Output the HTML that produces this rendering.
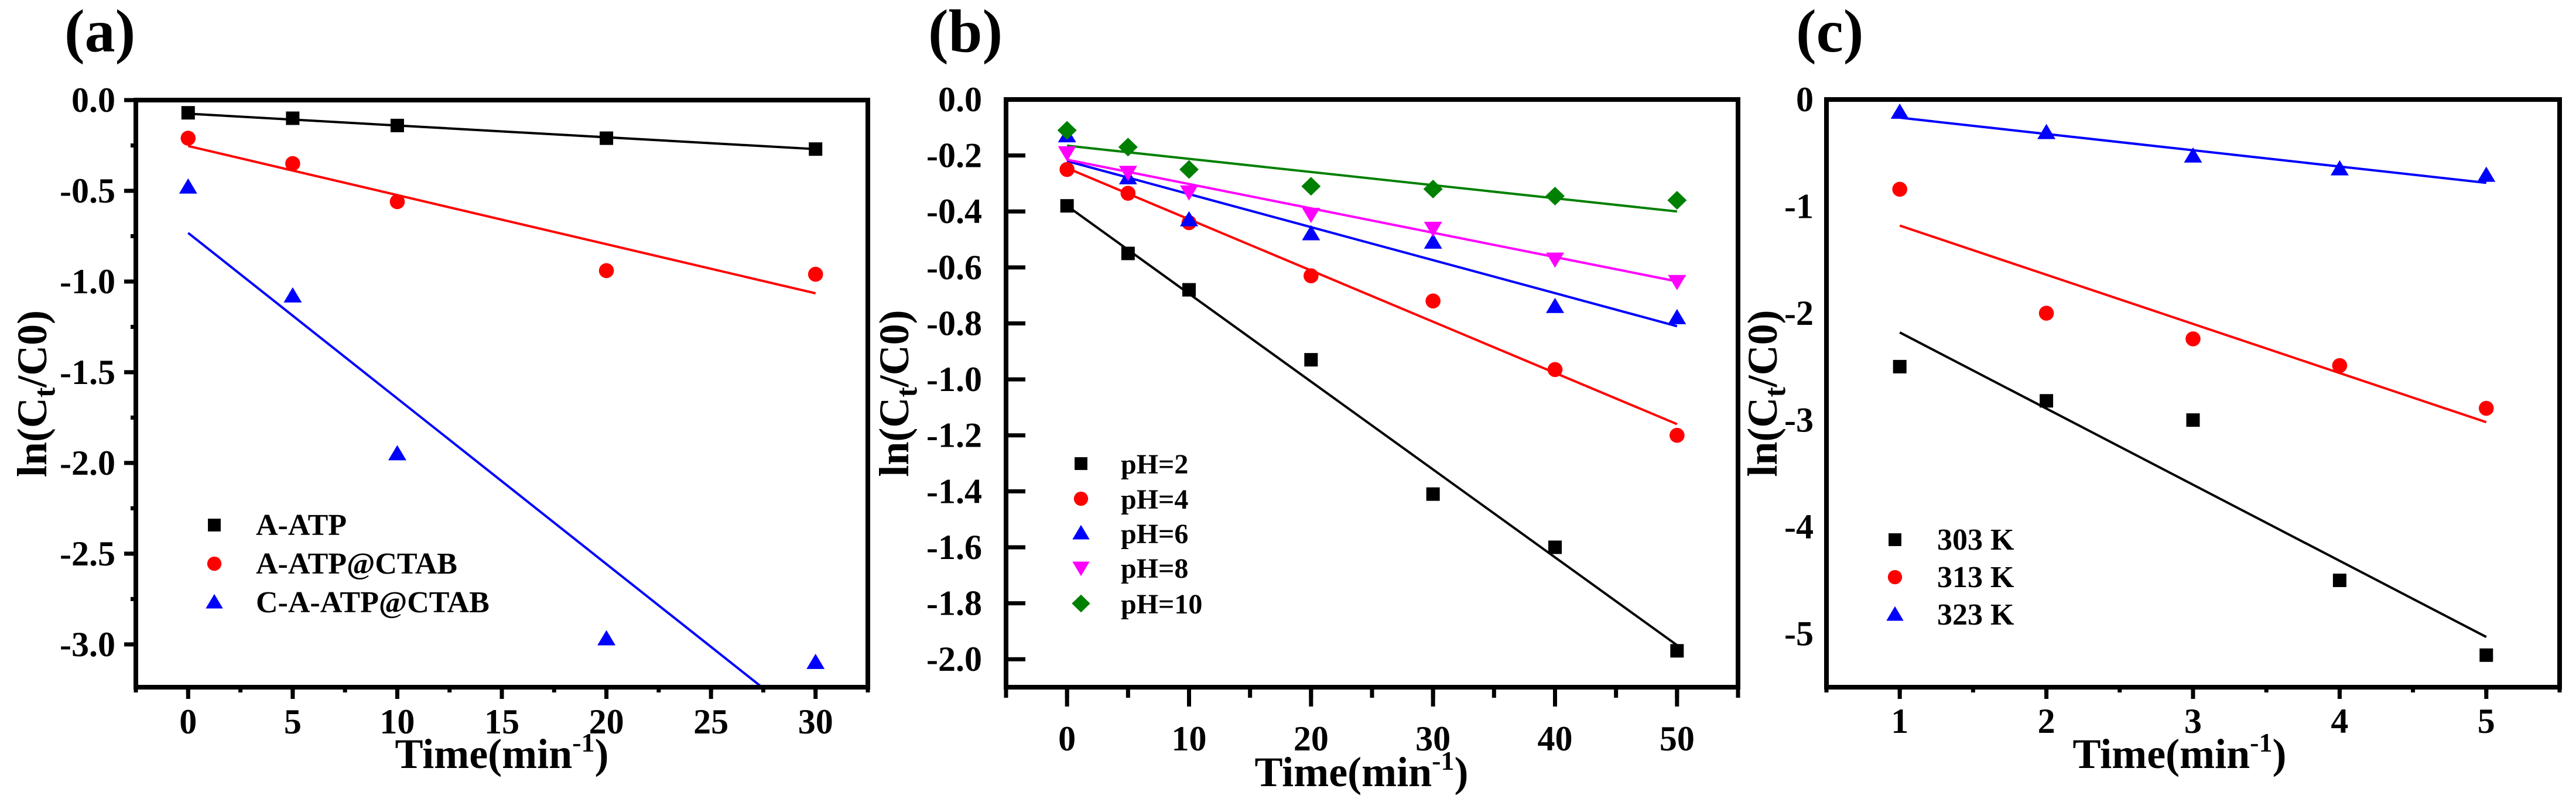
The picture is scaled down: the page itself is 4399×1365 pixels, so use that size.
<!DOCTYPE html>
<html><head><meta charset="utf-8"><style>
html,body{margin:0;padding:0;background:#fff}
svg{display:block}
text{font-family:"Liberation Serif","Times New Roman",Times,serif;font-weight:700;fill:#000}
</style></head><body>
<svg id="fig" width="4399" height="1365" viewBox="0 0 4399 1365" xmlns="http://www.w3.org/2000/svg"></svg>
<script>
// ---- Panel (a) data ----
const aTimes = [0, 5, 10, 20, 30];
const aATP = [-0.07, -0.10, -0.14, -0.21, -0.27];
const aATPCTAB = [-0.21, -0.35, -0.56, -0.94, -0.96];
const aCATPCTAB = [-0.48, -1.08, -1.95, -2.97, -3.10];
const aFitATP = [-0.075, -0.27];
const aFitATPCTAB = [-0.253, -1.065];
const aFitCATPCTAB = [-0.732, -3.47];
const aXTicks = [0, 5, 10, 15, 20, 25, 30];
const aYTicks = [0, -0.5, -1.0, -1.5, -2.0, -2.5, -3.0];
const aYTickLabels = ["0.0", "-0.5", "-1.0", "-1.5", "-2.0", "-2.5", "-3.0"];
const aLegend = ["A-ATP", "A-ATP@CTAB", "C-A-ATP@CTAB"];

// ---- Panel (b) data ----
const bTimes = [0, 5, 10, 20, 30, 40, 50];
const bPH2 = [-0.38, -0.55, -0.68, -0.93, -1.41, -1.60, -1.97];
const bPH4 = [-0.25, -0.335, -0.44, -0.63, -0.72, -0.965, -1.20];
const bPH6 = [-0.13, -0.28, -0.43, -0.48, -0.51, -0.74, -0.78];
const bPH8 = [-0.19, -0.26, -0.33, -0.41, -0.46, -0.57, -0.65];
const bPH10 = [-0.11, -0.17, -0.25, -0.31, -0.32, -0.345, -0.36];
const bFitPH2 = [-0.38, -1.95];
const bFitPH4 = [-0.245, -1.16];
const bFitPH6 = [-0.22, -0.81];
const bFitPH8 = [-0.215, -0.65];
const bFitPH10 = [-0.165, -0.40];
const bXTicks = [0, 10, 20, 30, 40, 50];
const bYTicks = [0, -0.2, -0.4, -0.6, -0.8, -1.0, -1.2, -1.4, -1.6, -1.8, -2.0];
const bYTickLabels = ["0.0","-0.2","-0.4","-0.6","-0.8","-1.0","-1.2","-1.4","-1.6","-1.8","-2.0"];
const bLegend = ["pH=2", "pH=4", "pH=6", "pH=8", "pH=10"];

// ---- Panel (c) data ----
const cTimes = [1, 2, 3, 4, 5];
const c303 = [-2.50, -2.82, -3.00, -4.50, -5.20];
const c313 = [-0.84, -2.00, -2.24, -2.49, -2.89];
const c323 = [-0.12, -0.31, -0.53, -0.65, -0.71];
const cFit303 = [-2.18, -5.03];
const cFit313 = [-1.18, -3.02];
const cFit323 = [-0.17, -0.78];
const cXTicks = [1, 2, 3, 4, 5];
const cYTicks = [0, -1, -2, -3, -4, -5];
const cYTickLabels = ["0", "-1", "-2", "-3", "-4", "-5"];
const cLegend = ["303 K", "313 K", "323 K"];

const NS = "http://www.w3.org/2000/svg";
const FONT = '"Liberation Serif","Times New Roman",Times,serif';
const svg = document.getElementById("fig");
function mk(tag, attrs, parent) {
  const e = document.createElementNS(NS, tag);
  for (const k in attrs) e.setAttribute(k, attrs[k]);
  if (tag === "text") { e.setAttribute("font-family", FONT); e.setAttribute("font-weight", "700"); }
  (parent || svg).appendChild(e);
  return e;
}
function marker(g, shape, color, cx, cy, s) {
  let e;
  if (shape === "square") e = mk("rect", {x: cx - 11.5*s, y: cy - 11.5*s, width: 23*s, height: 23*s, fill: color}, g);
  else if (shape === "circle") e = mk("circle", {cx: cx, cy: cy, r: 12.8*s, fill: color}, g);
  else if (shape === "tri") e = mk("polygon", {points: `${cx},${cy-15*s} ${cx+15.5*s},${cy+11*s} ${cx-15.5*s},${cy+11*s}`, fill: color}, g);
  else if (shape === "dtri") e = mk("polygon", {points: `${cx},${cy+15*s} ${cx+15.5*s},${cy-11*s} ${cx-15.5*s},${cy-11*s}`, fill: color}, g);
  else e = mk("polygon", {points: `${cx},${cy-16*s} ${cx+16.5*s},${cy} ${cx},${cy+16*s} ${cx-16.5*s},${cy}`, fill: color}, g);
  return e;
}

function panel(cfg) {
  const g = mk("g", {});
  
  
  const L = cfg.box[0], T = cfg.box[1], R = cfg.box[2], B = cfg.box[3];
  const sx = v => L + (v - cfg.xr[0]) / (cfg.xr[1] - cfg.xr[0]) * (R - L);
  const sy = v => T + (cfg.yr[1] - v) / (cfg.yr[1] - cfg.yr[0]) * (B - T);
  const clipId = cfg.name + "-clip";
  const cp = mk("clipPath", {id: clipId}, g);
  mk("rect", {x: L, y: T, width: R - L, height: B - T}, cp);

  cfg.series.forEach(s => {
    const ln = mk("line", {x1: sx(cfg.fitX[0]), y1: sy(s.fit[0]), x2: sx(cfg.fitX[1]), y2: sy(s.fit[1]), stroke: s.color, "stroke-width": 4, "clip-path": `url(#${clipId})`}, g);
    
    
  });
  cfg.series.forEach(s => {
    s.y.forEach((v, i) => {
      const m = marker(g, s.shape, s.color, sx(cfg.x[i]), sy(v), 1);
      
      
    });
  });
  const box = mk("rect", {x: L, y: T, width: R - L, height: B - T, fill: "none", stroke: "#000", "stroke-width": 8}, g);
  
  

  cfg.xTicks.forEach(v => {
    const x = sx(v);
    const t = mk("line", {x1: x, y1: B, x2: x, y2: B + cfg.xMaj, stroke: "#000", "stroke-width": 7}, g);
    
    
    const lb = mk("text", {x: x, y: cfg.xLabY, "font-size": 60, "text-anchor": "middle"}, g);
    lb.textContent = String(v);
    
    
  });
  for (let v = cfg.xr[0]; v <= cfg.xr[1] + 1e-9; v += cfg.xMinor) {
    const x = sx(v);
    if (x < L - 1 || x > R + 1) continue;
    mk("line", {x1: x, y1: B, x2: x, y2: B + cfg.xMin, stroke: "#000", "stroke-width": 7}, g);
  }
  cfg.yTicks.forEach((v, i) => {
    const y = sy(v);
    if (cfg.yTickDir !== 0) {
      const t = mk("line", {x1: L, y1: y, x2: L + cfg.yTickDir * cfg.yMaj, y2: y, stroke: "#000", "stroke-width": 7}, g);
      
      
    }
    const lb = mk("text", {x: cfg.yLabR, y: y + 20, "font-size": 60, "text-anchor": "end"}, g);
    lb.textContent = cfg.yTickLabels[i];
    
    
  });
  if (cfg.yMinor) {
    for (let v = cfg.yr[1]; v >= cfg.yr[0]; v -= cfg.yMinor) {
      const y = sy(v);
      mk("line", {x1: L, y1: y, x2: L + cfg.yTickDir * cfg.yMin, y2: y, stroke: "#000", "stroke-width": 7}, g);
    }
  }
  const xt = mk("text", {x: cfg.xTitleX, y: cfg.xTitleY, "font-size": 72, "text-anchor": "middle"}, g);
  xt.innerHTML = 'Time(min<tspan dy="-28" font-size="46">-1</tspan><tspan dy="28">)</tspan>';
  
  
  const yt = mk("text", {x: 0, y: 0, "font-size": 72, "text-anchor": "middle", transform: `translate(${cfg.yTitleX + 24},${(T + B) / 2}) rotate(-90)`}, g);
  yt.innerHTML = 'ln(C<tspan dy="14" font-size="52">t</tspan><tspan dy="-14">/C0)</tspan>';
  
  
  const pl = mk("text", {x: cfg.plX, y: 88, "font-size": 104}, g);
  pl.textContent = cfg.label;
  
  
  cfg.series.forEach((s, i) => {
    const y = cfg.leg.y[i];
    const m = marker(g, s.shape, s.color, cfg.leg.mx, y, 0.95);
    
    
    const t = mk("text", {x: cfg.leg.tx, y: y + 17, "font-size": cfg.leg.fs}, g);
    t.textContent = cfg.legend[i];
    
    
  });
}

panel({
  name: "panel-a", label: "(a)", plX: 110,
  box: [232, 171, 1482, 1174], xr: [-2.5, 32.5], yr: [-3.236, 0],
  x: aTimes, fitX: [0, 30],
  series: [
    {key: "a-atp", y: aATP, fit: aFitATP, color: "#000", shape: "square"},
    {key: "a-atp-ctab", y: aATPCTAB, fit: aFitATPCTAB, color: "#ff0000", shape: "circle"},
    {key: "c-a-atp-ctab", y: aCATPCTAB, fit: aFitCATPCTAB, color: "#0000ff", shape: "tri"}
  ],
  xTicks: aXTicks, xMinor: 2.5, xMaj: 20, xMin: 9, xLabY: 1253,
  yTicks: aYTicks, yTickLabels: aYTickLabels, yTickDir: -1, yMaj: 20, yMin: 9, yMinor: 0.25, yLabR: 197,
  xTitleX: 857, xTitleY: 1312, yTitleX: 55,
  legend: aLegend, leg: {mx: 366, tx: 437, y: [897, 963, 1029], fs: 52}
});
panel({
  name: "panel-b", label: "(b)", plX: 1585,
  box: [1718, 170, 2968, 1174], xr: [-5, 55], yr: [-2.1, 0],
  x: bTimes, fitX: [0, 50],
  series: [
    {key: "ph2", y: bPH2, fit: bFitPH2, color: "#000", shape: "square"},
    {key: "ph4", y: bPH4, fit: bFitPH4, color: "#ff0000", shape: "circle"},
    {key: "ph6", y: bPH6, fit: bFitPH6, color: "#0000ff", shape: "tri"},
    {key: "ph8", y: bPH8, fit: bFitPH8, color: "#ff00ff", shape: "dtri"},
    {key: "ph10", y: bPH10, fit: bFitPH10, color: "#008000", shape: "diamond"}
  ],
  xTicks: bXTicks, xMinor: 5, xMaj: 33, xMin: 18, xLabY: 1282,
  yTicks: bYTicks, yTickLabels: bYTickLabels, yTickDir: 1, yMaj: 33, yMin: 0, yMinor: 0, yLabR: 1677,
  xTitleX: 2325, xTitleY: 1343, yTitleX: 1527,
  legend: bLegend, leg: {mx: 1846, tx: 1914, y: [792, 852, 911, 970, 1031], fs: 48}
});
panel({
  name: "panel-c", label: "(c)", plX: 3067,
  box: [3119, 170, 4371, 1174], xr: [0.5, 5.5], yr: [-5.5, 0],
  x: cTimes, fitX: [1, 5],
  series: [
    {key: "k303", y: c303, fit: cFit303, color: "#000", shape: "square"},
    {key: "k313", y: c313, fit: cFit313, color: "#ff0000", shape: "circle"},
    {key: "k323", y: c323, fit: cFit323, color: "#0000ff", shape: "tri"}
  ],
  xTicks: cXTicks, xMinor: 0.5, xMaj: 20, xMin: 9, xLabY: 1252,
  yTicks: cYTicks, yTickLabels: cYTickLabels, yTickDir: 0, yMaj: 0, yMin: 0, yMinor: 0, yLabR: 3097,
  xTitleX: 3722, xTitleY: 1312, yTitleX: 3010,
  legend: cLegend, leg: {mx: 3236, tx: 3308, y: [922, 986, 1050], fs: 52}
});
</script>
</body></html>
